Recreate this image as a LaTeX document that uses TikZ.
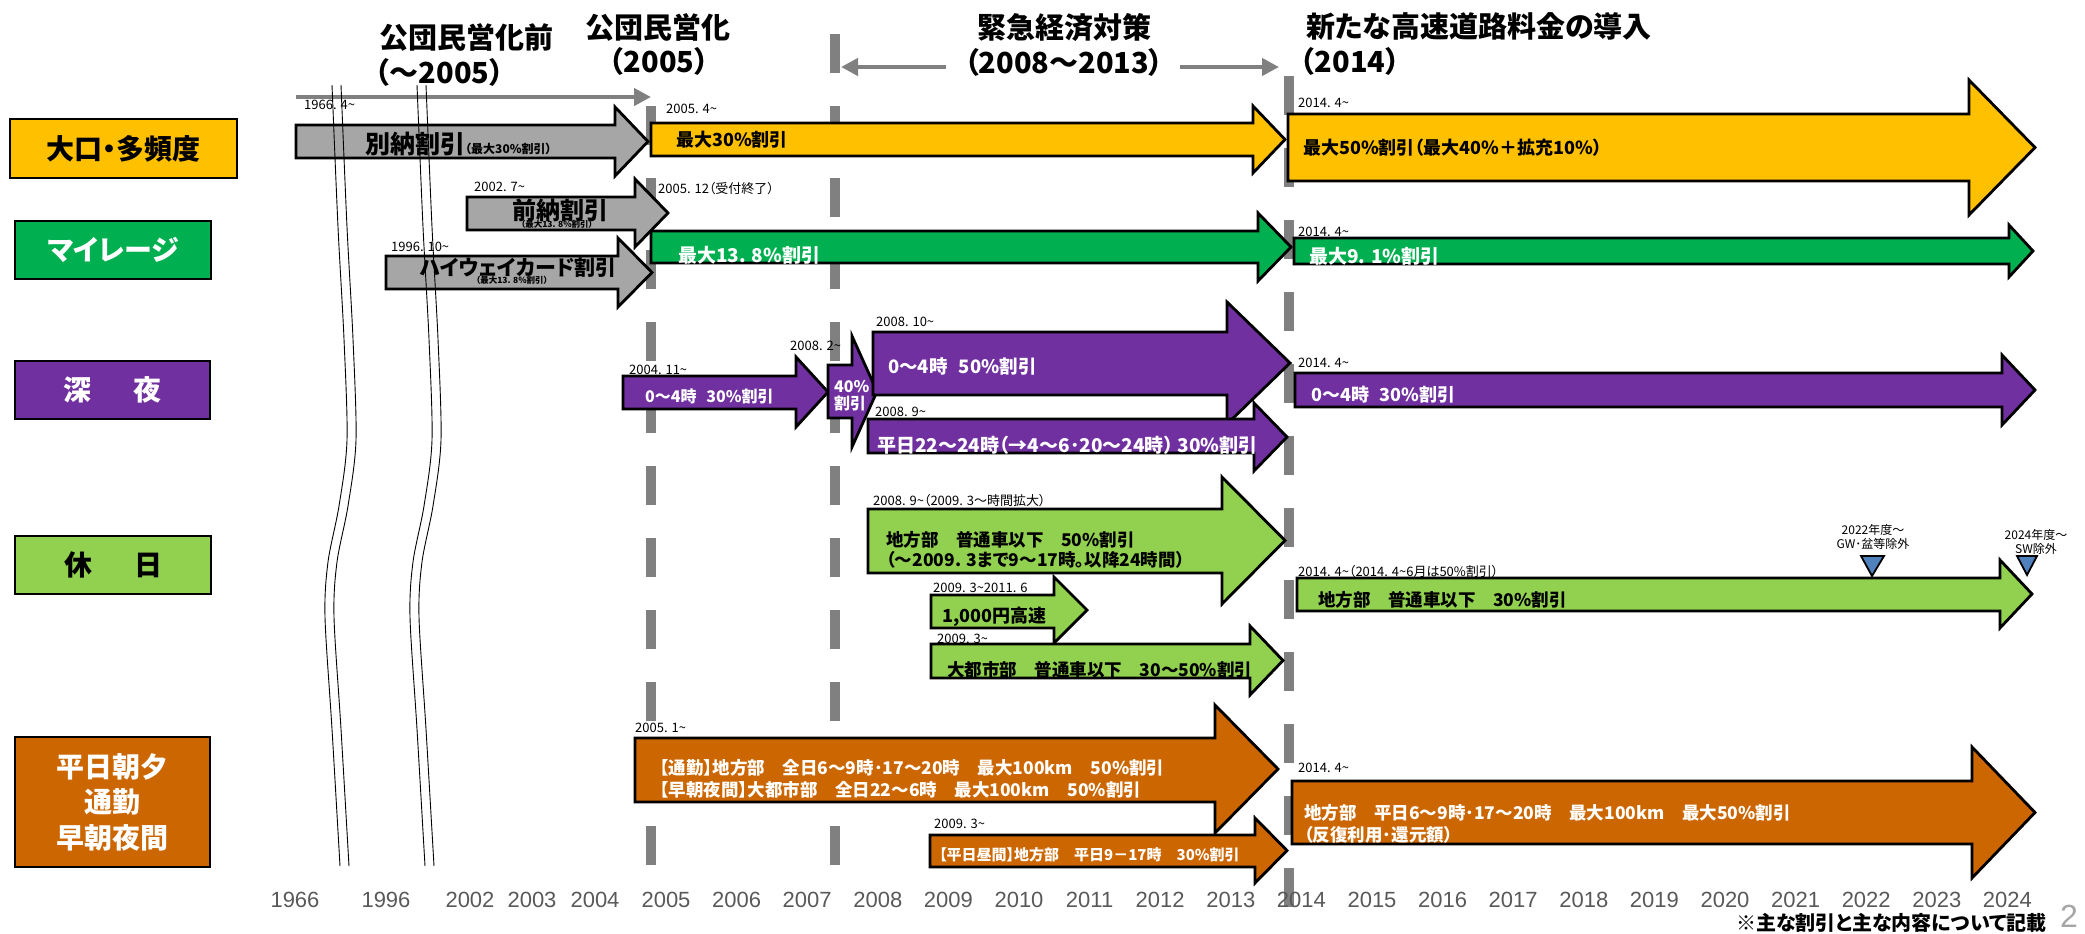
\documentclass[tikz,border=0pt]{standalone}
\usepackage{fontspec}
\setmainfont{Noto Sans CJK JP}[RawFeature=+palt, BoldFont={Noto Sans CJK JP Black}]
\newfontfamily\latinfont{Liberation Sans}
\usetikzlibrary{arrows.meta}
\definecolor{cYellow}{HTML}{FFC000}
\definecolor{cGreen}{HTML}{00B050}
\definecolor{cPurple}{HTML}{7030A0}
\definecolor{cLGreen}{HTML}{92D050}
\definecolor{cOrange}{HTML}{CC6600}
\definecolor{cGrayArrow}{HTML}{A6A6A6}
\definecolor{cDash}{HTML}{808080}
\definecolor{cYear}{HTML}{595959}
\definecolor{cBlue}{HTML}{4F81BD}
\definecolor{cPage}{HTML}{A6A6A6}
\newcommand{\mytld}{\textasciitilde}
\newcommand{\fsz}[2]{\fontsize{#1}{#2}\selectfont}
% #1 name, #2 fill, #3 x1, #4 x2 (head base), #5 x3 (tip), #6/#7 body top/bottom, #8/#9 head top/bottom
\newcommand{\blockarrow}[9]{%
  \coordinate (#1) at (#3,{(#6+#7)/2});
  \filldraw[barrow, fill=#2] (#3,#6) -- (#4,#6) -- (#4,#8) -- (#5,{(#8+#9)/2}) -- (#4,#9) -- (#4,#7) -- (#3,#7) -- cycle;}
\tikzset{
  barrow/.style={draw=black, line width=2.8pt, line join=miter, miter limit=10},
  cat/.style={draw=black, line width=2pt, inner sep=0pt, font=\bfseries\fsz{28}{35}, align=center},
  date/.style={anchor=west, inner sep=0pt, font=\fsz{13}{15}},
  atext/.style={anchor=west, inner sep=0pt, align=left},
  title/.style={inner sep=0pt, font=\bfseries\fsz{29}{35}},
  vdash/.style={draw=cDash, line width=10pt, dash pattern=on 39pt off 33pt},
  garrow/.style={draw=cDash, line width=4.5pt, -{Triangle[length=17pt,width=17pt]}},
  yr/.style={font=\latinfont\fsz{22}{24}, text=cYear, inner sep=0pt},
  mk/.style={fill=cBlue, draw=black, line width=1.8pt, line join=miter},
  mtext/.style={font=\fsz{12}{14}, align=center, inner sep=0pt},
  brk/.style={draw=black, line width=0.9pt},
}
\begin{document}
\begin{tikzpicture}[x=1pt,y=-1pt]
\useasboundingbox (0,0) rectangle (2085,934);

% ---- vertical dashed period lines ----
\coordinate (v05t) at (651,106); \coordinate (v05b) at (651,866);
\coordinate (v07t) at (835,34);  \coordinate (v07b) at (835,866);
\coordinate (v14t) at (1289,76); \coordinate (v14b) at (1289,907);
\draw[vdash] (v05t) -- (v05b);
\draw[vdash] (v07t) -- (v07b);
\draw[vdash] (v14t) -- (v14b);

% ---- titles ----
\node[title, anchor=west] (t1a) at (379,37.5) {公団民営化前};
\node[title, anchor=west] (t1b) at (375,72.5) {（～2005）};
\node[title] (t2a) at (658,27.5) {公団民営化};
\node[title] (t2b) at (659,61.5) {（2005）};
\node[title] (t3a) at (1064,27.5) {緊急経済対策};
\node[title] (t3b) at (1064,62.5) {（2008～2013）};
\node[title, anchor=west] (t4a) at (1306,26.5) {新たな高速道路料金の導入};
\node[title, anchor=west] (t4b) at (1300,61.5) {（2014）};

\coordinate (ecoL1) at (946,67); \coordinate (ecoL2) at (841,67);
\coordinate (ecoR1) at (1180,67); \coordinate (ecoR2) at (1279,67);
\draw[garrow] (ecoL1) -- (ecoL2);
\draw[garrow] (ecoR1) -- (ecoR2);
\coordinate (preS) at (296,97); \coordinate (preE) at (651,97);
\draw[garrow] (preS) -- (preE);

% ---- category boxes ----
\node[cat, fill=cYellow, minimum width=227pt, minimum height=59pt] (c1) at (123.5,148.5) {大口・多頻度};
\node[cat, fill=cGreen, text=white, minimum width=196pt, minimum height=58pt] (c2) at (113,250) {マイレージ};
\node[cat, fill=cPurple, text=white, minimum width=195pt, minimum height=58pt] (c3) at (112.5,390) {深\hspace{1.5em}夜};
\node[cat, fill=cLGreen, minimum width=196pt, minimum height=58pt] (c4) at (113,565) {休\hspace{1.5em}日};
\node[cat, fill=cOrange, text=white, minimum width=195pt, minimum height=130pt, font=\bfseries\fsz{28}{35.5}] (c5) at (112.5,802) {平日朝夕\\通勤\\早朝夜間};

% ---- row 1 ----
\blockarrow{a1}{cGrayArrow}{296}{615}{648}{125}{158}{107}{176}
\node[atext, anchor=base west, font=\bfseries] (a1t) at (365,153) {{\fsz{25}{28}別納割引}{\fsz{12}{14}（最大30\%割引）}};
\blockarrow{a2}{cYellow}{651}{1253}{1285}{123}{156}{106}{173}
\node[atext, font=\bfseries\fsz{18}{22}] (a2t) at (676,140) {最大30\%割引};
\blockarrow{a3}{cYellow}{1288}{1969}{2035}{114}{181}{80}{215}
\node[atext, font=\bfseries\fsz{18}{22}] (a3t) at (1303,148) {最大50\%割引（最大40\%＋拡充10\%）};

% ---- row 2 ----
\blockarrow{a4}{cGrayArrow}{467}{635}{668}{197}{230}{179}{247}
\node[atext, font=\bfseries\fsz{24}{26}] (a4t) at (512,210) {前納割引};
\node[inner sep=0pt, font=\bfseries\fsz{8.5}{9}] (a4s) at (557,224) {（最大13. 8\%割引）};
\blockarrow{a5}{cGrayArrow}{386}{618}{652}{256}{289}{238}{307}
\node[atext, font=\bfseries\fsz{21}{24}] (a5t) at (420,268) {ハイウェイカード割引};
\node[inner sep=0pt, font=\bfseries\fsz{8.5}{9}] (a5s) at (512,280) {（最大13. 8\%割引）};
\blockarrow{a6}{cGreen}{651}{1258}{1291}{231}{263}{213}{281}
\node[atext, text=white, font=\bfseries\fsz{19}{22}] (a6t) at (678,255) {最大13. 8\%割引};
\blockarrow{a7}{cGreen}{1294}{2009}{2033}{238}{264}{225}{277}
\node[atext, text=white, font=\bfseries\fsz{19}{22}] (a7t) at (1309,256) {最大9. 1\%割引};

% ---- row 3 ----
\blockarrow{a8}{cPurple}{623}{796}{828}{376}{409}{357}{427}
\node[atext, text=white, font=\bfseries\fsz{16}{19}] (a8t) at (645,396) {0～4時\hspace{0.6em}30\%割引};
\blockarrow{a9}{cPurple}{828}{852}{877}{365}{418}{336}{447}
\node[atext, text=white, font=\bfseries\fsz{16}{17}] (a9t) at (834,395.5) {40\%\\割引};
\blockarrow{a10}{cPurple}{873}{1227}{1290}{332}{395}{302}{424}
\node[atext, text=white, font=\bfseries\fsz{18.5}{22}] (a10t) at (888,366) {0～4時\hspace{0.6em}50\%割引};
\blockarrow{a11}{cPurple}{868}{1254}{1287}{419}{453}{403}{471}
\node[atext, text=white, font=\bfseries\fsz{19}{22}] (a11t) at (877,445) {平日22～24時（→4～6･20～24時） 30\%割引};
\blockarrow{a12}{cPurple}{1295}{2002}{2035}{373}{407}{355}{425}
\node[atext, text=white, font=\bfseries\fsz{18}{22}] (a12t) at (1311,395) {0～4時\hspace{0.6em}30\%割引};

% ---- row 4 ----
\blockarrow{a13}{cLGreen}{868}{1222}{1285}{509}{573}{477}{604}
\node[atext, font=\bfseries\fsz{17.5}{20}] (a13t) at (886,550) {地方部　普通車以下　50\%割引\\（～2009. 3まで9～17時。以降24時間）};
\blockarrow{a14}{cLGreen}{931}{1054}{1087}{595}{628}{577}{643}
\node[atext, font=\bfseries\fsz{18}{22}] (a14t) at (942,617) {1,000円高速};
\blockarrow{a15}{cLGreen}{931}{1250}{1283}{644}{678}{626}{695}
\node[atext, font=\bfseries\fsz{17.5}{21}] (a15t) at (947,670) {大都市部　普通車以下　30～50\%割引};
\blockarrow{a16}{cLGreen}{1297}{2000}{2032}{578}{611}{560}{628}
\node[atext, font=\bfseries\fsz{17.5}{21}] (a16t) at (1318,600) {地方部　普通車以下　30\%割引};
\draw[mk] (1861,556) -- (1884,556) -- (1872,576) -- cycle;
\draw[mk] (2017,556) -- (2037,556) -- (2027,575) -- cycle;
\node[mtext] (m1t) at (1873,537) {2022年度～\\GW･盆等除外};
\node[mtext] (m2t) at (2036,541.5) {2024年度～\\SW除外};

% ---- row 5 ----
\blockarrow{a17}{cOrange}{635}{1215}{1278}{738}{802}{705}{833}
\node[atext, text=white, font=\bfseries\fsz{17.5}{22}] (a17t) at (660,779) {【通勤】地方部　全日6～9時･17～20時　最大100km　50\%割引\\【早朝夜間】大都市部　全日22～6時　最大100km　50\%割引};
\blockarrow{a18}{cOrange}{930}{1255}{1287}{835}{867}{818}{883}
\node[atext, text=white, font=\bfseries\fsz{15}{18}] (a18t) at (939,855) {【平日昼間】地方部　平日9－17時　30\%割引};
\blockarrow{a19}{cOrange}{1292}{1972}{2035}{781}{844}{747}{878}
\node[atext, text=white, font=\bfseries\fsz{17.5}{22}] (a19t) at (1304,824) {地方部　平日6～9時･17～20時　最大100km　最大50\%割引\\（反復利用･還元額）};

% ---- date labels ----
\node[date] (d1) at (304,105) {1966. 4\mytld};
\node[date] (d2) at (666,109) {2005. 4\mytld};
\node[date] (d3) at (1298,103) {2014. 4\mytld};
\node[date] (d4) at (474,187) {2002. 7\mytld};
\node[date] (d5) at (658,189) {2005. 12（受付終了）};
\node[date] (d6) at (391,247) {1996. 10\mytld};
\node[date] (d7) at (1298,232) {2014. 4\mytld};
\node[date] (d8) at (629,370) {2004. 11\mytld};
\node[date] (d9) at (790,346) {2008. 2\mytld};
\node[date] (d10) at (876,322) {2008. 10\mytld};
\node[date] (d11) at (875,412) {2008. 9\mytld};
\node[date] (d12) at (1298,363) {2014. 4\mytld};
\node[date] (d13) at (873,501) {2008. 9\mytld（2009. 3～時間拡大）};
\node[date] (d14) at (933,588) {2009. 3\mytld 2011. 6};
\node[date] (d15) at (937,639) {2009. 3\mytld};
\node[date] (d16) at (1298,572) {2014. 4\mytld（2014. 4\mytld 6月は50\%割引）};
\node[date] (d17) at (635,728) {2005. 1\mytld};
\node[date] (d18) at (934,824) {2009. 3\mytld};
\node[date] (d19) at (1298,768) {2014. 4\mytld};

% ---- axis break lines ----
\foreach \dx in {0,9,85,94}
  \draw[brk, xshift=\dx] plot[smooth] coordinates {(332,85) (338,227) (344,339) (347,440) (339,506) (328,562) (325,617) (332,729) (340,866)};

% ---- year axis ----
\node[yr] (yr1966) at (295,900) {1966};
\node[yr] (yr1996) at (386,900) {1996};
\node[yr] (yr2002) at (470,900) {2002};
\node[yr] (yr2003) at (532,900) {2003};
\node[yr] (yr2004) at (595,900) {2004};
\foreach \yy in {2005,...,2024}
  \node[yr] (yr\yy) at ({666+70.6*(\yy-2005)},900) {\yy};

\node[inner sep=0pt, anchor=east, font=\bfseries\fsz{20}{22}] (note) at (2047,923) {※主な割引と主な内容について記載};
\node[inner sep=0pt, font=\latinfont\fsz{32}{34}, text=cPage] (page) at (2069,916) {2};
\end{tikzpicture}
\end{document}
